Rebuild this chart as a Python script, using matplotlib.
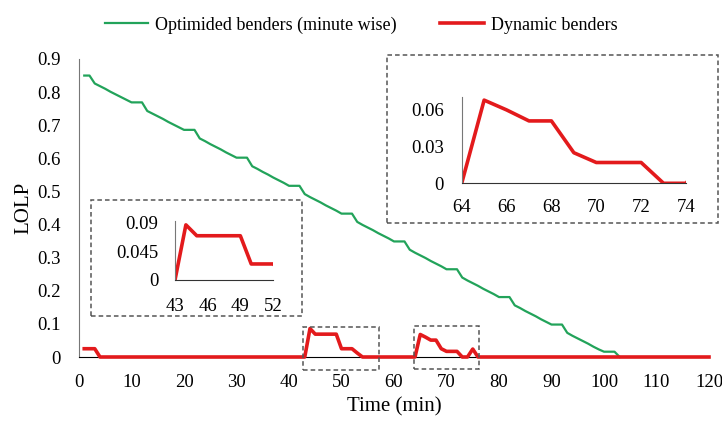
import numpy as np
import matplotlib
matplotlib.use('Agg')
from matplotlib import pyplot as plt
from matplotlib.patches import Rectangle

# Fonts
plt.rcParams['font.family'] = ['Liberation Serif', 'DejaVu Serif']

# Data: LOLP per minute
timeOpt = np.arange(1, 104)
lolpOpt = [0.850, 0.850, 0.826, 0.818, 0.810, 0.801, 0.793, 0.785, 0.777, 0.769,
           0.769, 0.769, 0.743, 0.735, 0.727, 0.719, 0.710, 0.702, 0.694, 0.686,
           0.686, 0.686, 0.660, 0.652, 0.643, 0.635, 0.627, 0.618, 0.610, 0.602,
           0.602, 0.602, 0.576, 0.568, 0.559, 0.551, 0.542, 0.534, 0.526, 0.517,
           0.517, 0.517, 0.492, 0.483, 0.475, 0.467, 0.458, 0.450, 0.442, 0.433,
           0.433, 0.433, 0.408, 0.399, 0.391, 0.383, 0.374, 0.366, 0.358, 0.349,
           0.349, 0.349, 0.324, 0.315, 0.307, 0.299, 0.290, 0.282, 0.274, 0.265,
           0.265, 0.265, 0.240, 0.231, 0.223, 0.215, 0.206, 0.198, 0.190, 0.181,
           0.181, 0.181, 0.156, 0.148, 0.139, 0.131, 0.123, 0.114, 0.106, 0.098,
           0.098, 0.098, 0.073, 0.064, 0.056, 0.048, 0.040, 0.031, 0.023, 0.016,
           0.016, 0.016, 0.000]

timeDyn = np.arange(1, 121)
lolpDyn = [0.025, 0.025, 0.025, 0, 0, 0, 0, 0, 0, 0,
           0, 0, 0, 0, 0, 0, 0, 0, 0, 0,
           0, 0, 0, 0, 0, 0, 0, 0, 0, 0,
           0, 0, 0, 0, 0, 0, 0, 0, 0, 0,
           0, 0, 0, 0.086, 0.069, 0.069, 0.069, 0.069, 0.069, 0.025,
           0.025, 0.025, 0.012, 0, 0, 0, 0, 0, 0, 0,
           0, 0, 0, 0, 0.068, 0.060, 0.051, 0.051, 0.025, 0.017,
           0.017, 0.017, 0, 0, 0.024, 0, 0, 0, 0, 0,
           0, 0, 0, 0, 0, 0, 0, 0, 0, 0,
           0, 0, 0, 0, 0, 0, 0, 0, 0, 0,
           0, 0, 0, 0, 0, 0, 0, 0, 0, 0,
           0, 0, 0, 0, 0, 0, 0, 0, 0, 0]

xTicks = list(range(0, 121, 10))
yTicks = [0, 0.1, 0.2, 0.3, 0.4, 0.5, 0.6, 0.7, 0.8, 0.9]
yTickLabels = ['0', '0.1', '0.2', '0.3', '0.4', '0.5', '0.6', '0.7', '0.8', '0.9']

zoom1Ticks = [43, 46, 49, 52]
zoom1YTicks = [0, 0.045, 0.09]
zoom1YLabels = ['0', '0.045', '0.09']
zoom2Ticks = [64, 66, 68, 70, 72, 74]
zoom2YTicks = [0, 0.03, 0.06]
zoom2YLabels = ['0', '0.03', '0.06']

green = '#22a35a'
red = '#e31a1c'

W, H = 722, 421

def box(left, top, right, bottom):
    # pixel box -> figure fraction [l, b, w, h]
    return [left / W, 1 - bottom / H, (right - left) / W, (bottom - top) / H]

fig = plt.figure(figsize=(W / 100, H / 100), dpi=100)

# Main plot
ax = fig.add_axes(box(79, 59, 709, 357))
ax.plot(timeOpt, lolpOpt, color=green, lw=1.6, label='Optimided benders (minute wise)', clip_on=False)
ax.plot(timeDyn, lolpDyn, color=red, lw=2.6, label='Dynamic benders', clip_on=False, zorder=3)
ax.set_xlim(0, 120)
ax.set_ylim(0, 0.9)
ax.set_xticks(xTicks)
ax.set_yticks(yTicks)
ax.set_yticklabels(yTickLabels)
ax.tick_params(axis='both', length=0, labelsize=13.5)
ax.tick_params(axis='y', pad=13)
ax.tick_params(axis='x', pad=12)
for s in ['top', 'right']:
    ax.spines[s].set_visible(False)
ax.spines['left'].set_color('#777777')
ax.spines['bottom'].set_color('black')
ax.set_xlabel('Time (min)', fontsize=15, labelpad=5)
ax.set_ylabel('LOLP', fontsize=15, labelpad=3)

# Dashed boxes around zoomed regions
for (x0, x1, y0, y1) in [(42.7, 57.2, -0.039, 0.092), (63.8, 76.2, -0.036, 0.095)]:
    ax.add_patch(Rectangle((x0, y0), x1 - x0, y1 - y0, fill=False, ec='#555555',
                           lw=1.1, ls=(0, (3, 2)), clip_on=False, zorder=4))

# Inset frames
for (l, t, r, b) in [(91, 200, 301.7, 316), (387.3, 55, 718.3, 223.3)]:
    fig.add_artist(Rectangle((l / W, 1 - b / H), (r - l) / W, (b - t) / H, fill=False,
                             ec='#555555', lw=1.1, ls=(0, (3, 2)), transform=fig.transFigure))

def inset(rect, xlim, ylim, xt, yt, ytl, ypad, xpad):
    a = fig.add_axes(rect)
    a.plot(timeDyn, lolpDyn, color=red, lw=2.6, clip_on=True, solid_capstyle='butt')
    a.set_xlim(*xlim)
    a.set_ylim(*ylim)
    a.set_xticks(xt)
    a.set_yticks(yt)
    a.set_yticklabels(ytl)
    a.tick_params(axis='both', length=0, labelsize=13.5)
    a.tick_params(axis='y', pad=ypad)
    a.tick_params(axis='x', pad=xpad)
    for s in ['top', 'right']:
        a.spines[s].set_visible(False)
    a.spines['left'].set_color('#777777')
    a.spines['bottom'].set_color('#333333')
    a.patch.set_alpha(0)
    return a

inset(box(175, 221, 273, 280), (43, 52), (0, 0.092), zoom1Ticks, zoom1YTicks, zoom1YLabels, 12, 13)
inset(box(461.7, 96.7, 686, 183.3), (64, 74), (0, 0.0708), zoom2Ticks, zoom2YTicks, zoom2YLabels, 13, 11)

fig.legend(loc='upper center', bbox_to_anchor=(0.5, 1.0), ncol=2, frameon=False,
           fontsize=13, handlelength=2.4, handletextpad=0.4, columnspacing=2.4)

fig.savefig('out.png', dpi=100)
